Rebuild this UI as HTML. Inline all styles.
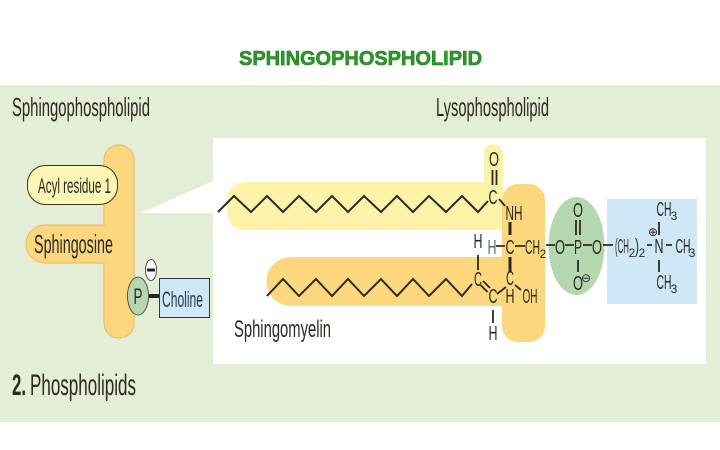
<!DOCTYPE html>
<html><head><meta charset="utf-8"><style>
html,body{margin:0;padding:0;background:#fff}
svg{display:block}
text{font-family:"Liberation Sans",sans-serif;fill:#2b2a20}
.c text{font-size:20px;text-anchor:middle}
.c text.s{font-size:12px}
.b{stroke:#2b2a20;stroke-width:1.800;fill:none}
.z{stroke:#2b2a20;stroke-width:2;fill:none;stroke-linejoin:miter}
.k{stroke:#2b2a20;stroke-width:3;fill:none}
</style></head><body>
<svg width="720" height="450" viewBox="0 0 720 450" xmlns="http://www.w3.org/2000/svg">
<rect width="720" height="450" fill="#fff"/>
<text x="239" y="65" font-size="20" font-weight="700" textLength="243" lengthAdjust="spacingAndGlyphs" style="fill:#2a9a2a;stroke:#1f7a1f;stroke-width:.6">SPHINGOPHOSPHOLIPID</text>
<rect x="0" y="85" width="720" height="337" fill="#e4edd6"/>
<rect x="213" y="138" width="493" height="226" fill="#fff"/>
<polygon points="141,213 213,181 213,213" fill="#fff"/>

<!-- left schematic -->
<text x="12" y="116" font-size="26" textLength="138" lengthAdjust="spacingAndGlyphs">Sphingophospholipid</text>
<text x="436" y="116" font-size="26" textLength="113" lengthAdjust="spacingAndGlyphs">Lysophospholipid</text>
<path d="M104 320V263H45a19 19 0 0 1 0-38H104V160a15 15 0 0 1 30 0V323a15 15 0 0 1-30 0Z" fill="#fcd77d" stroke="#eeb45c" stroke-width="1"/>
<rect x="27.500" y="165.500" width="90" height="39" rx="18" fill="#fdf6b4" stroke="#3a3520" stroke-width="1"/>
<text x="38" y="193" font-size="21" textLength="73" lengthAdjust="spacingAndGlyphs">Acyl residue 1</text>
<text x="34" y="253" font-size="26" textLength="79" lengthAdjust="spacingAndGlyphs">Sphingosine</text>
<ellipse cx="138" cy="296" rx="10.500" ry="19" fill="#b4d7b0" stroke="#3a3520" stroke-width=".8"/>
<text x="138" y="304" font-size="22" text-anchor="middle" textLength="9" lengthAdjust="spacingAndGlyphs">P</text>
<ellipse cx="151" cy="270" rx="5.500" ry="10.500" fill="#fff" stroke="#2b2a20" stroke-width=".8"/>
<rect x="147" y="268.500" width="8" height="3" fill="#222"/>
<rect x="149" y="294" width="10" height="4" fill="#222"/>
<rect x="159.500" y="278.500" width="50" height="39" fill="#cfe8f8" stroke="#2b3a44" stroke-width="1"/>
<text x="162" y="307" font-size="22" textLength="41" lengthAdjust="spacingAndGlyphs" style="fill:#1f3a4a">Choline</text>
<text x="12" y="395" font-size="30" font-weight="700" textLength="14" lengthAdjust="spacingAndGlyphs">2.</text>
<text x="30" y="395" font-size="30" textLength="106" lengthAdjust="spacingAndGlyphs">Phospholipids</text>

<!-- highlight regions -->
<path d="M484 154a9.500 10 0 0 1 19 0V230H245a18 18 0 0 1-18-18V200a18 18 0 0 1 18-18H484Z" fill="#fbf3a8"/>
<path d="M505 257H291a24 24 0 0 0 0 49H505Z" fill="#fcd77d"/>
<rect x="502" y="184" width="43" height="158" rx="16" fill="#fcd77d"/>
<ellipse cx="576.500" cy="246" rx="28" ry="49" fill="#b4d7b0"/>
<rect x="607" y="199" width="90" height="105" fill="#cfe8f8"/>

<!-- chains -->
<polyline class="z" points="218,212 234,196 251,212 267,196 283,212 299,196 316,212 332,196 348,212 364,196 381,212 397,196 413,212 429,196 446,212 462,196 478,212 488,201"/>
<polyline class="z" points="267,296 283,279 299,296 316,279 332,296 348,279 364,296 381,279 397,296 413,279 429,296 446,279 462,296 472,284"/>

<!-- bonds -->
<path class="b" d="M492.500 170V185M496.500 170V185M499 199L505 206M478 255V270M483 281L490 288M480.500 285L487.500 292M493 310V323M497 294L506 287M515 285L521 290M496 246H505M515 246H525M546 245H555M565 245H574M576 220V235M580 220V235M578 260V272M583 245H592M603 245H613M647 245H652M666 245H672M659 222V235M659 260V272"/>
<path class="k" d="M510 222V235M510 257V272"/>

<!-- labels -->
<g class="c">
<text x="494" y="166" textLength="10" lengthAdjust="spacingAndGlyphs">O</text>
<text x="493" y="204" textLength="9" lengthAdjust="spacingAndGlyphs">C</text>
<text x="514" y="220" textLength="17" lengthAdjust="spacingAndGlyphs">NH</text>
<text x="478" y="248" textLength="9" lengthAdjust="spacingAndGlyphs">H</text>
<text x="492" y="254" textLength="9" lengthAdjust="spacingAndGlyphs" style="fill:#5a6a70">H</text>
<text x="510" y="254" textLength="9" lengthAdjust="spacingAndGlyphs">C</text>
<text x="532.500" y="254" textLength="15" lengthAdjust="spacingAndGlyphs">CH</text>
<text class="s" x="543" y="258">2</text>
<text x="560" y="254" textLength="10" lengthAdjust="spacingAndGlyphs">O</text>
<text x="578" y="254" textLength="8" lengthAdjust="spacingAndGlyphs">P</text>
<text x="578" y="217" textLength="10" lengthAdjust="spacingAndGlyphs">O</text>
<text x="578" y="290" textLength="10" lengthAdjust="spacingAndGlyphs">O</text>
<text class="s" x="586" y="282">⊖</text>
<text x="597" y="254" textLength="10" lengthAdjust="spacingAndGlyphs">O</text>
<text x="622" y="253" textLength="14" lengthAdjust="spacingAndGlyphs">(CH</text>
<text class="s" x="632" y="257">2</text>
<text x="637" y="253" textLength="4" lengthAdjust="spacingAndGlyphs">)</text>
<text class="s" x="642" y="257">2</text>
<text x="659" y="253" textLength="9" lengthAdjust="spacingAndGlyphs">N</text>
<text class="s" x="653" y="236">⊕</text>
<text x="683" y="253" textLength="15" lengthAdjust="spacingAndGlyphs">CH</text>
<text class="s" x="692" y="257">3</text>
<text x="664" y="216" textLength="15" lengthAdjust="spacingAndGlyphs">CH</text>
<text class="s" x="674" y="220">3</text>
<text x="664" y="289" textLength="15" lengthAdjust="spacingAndGlyphs">CH</text>
<text class="s" x="674" y="293">3</text>
<text x="478" y="286" textLength="8" lengthAdjust="spacingAndGlyphs">C</text>
<text x="493" y="303" textLength="9" lengthAdjust="spacingAndGlyphs">C</text>
<text x="510" y="285" textLength="8" lengthAdjust="spacingAndGlyphs">C</text>
<text x="510" y="303" textLength="9" lengthAdjust="spacingAndGlyphs">H</text>
<text x="530" y="303" textLength="15" lengthAdjust="spacingAndGlyphs">OH</text>
<text x="493" y="340" textLength="9" lengthAdjust="spacingAndGlyphs">H</text>
</g>
<text x="234" y="337" font-size="24" textLength="97" lengthAdjust="spacingAndGlyphs">Sphingomyelin</text>
</svg>
</body></html>
